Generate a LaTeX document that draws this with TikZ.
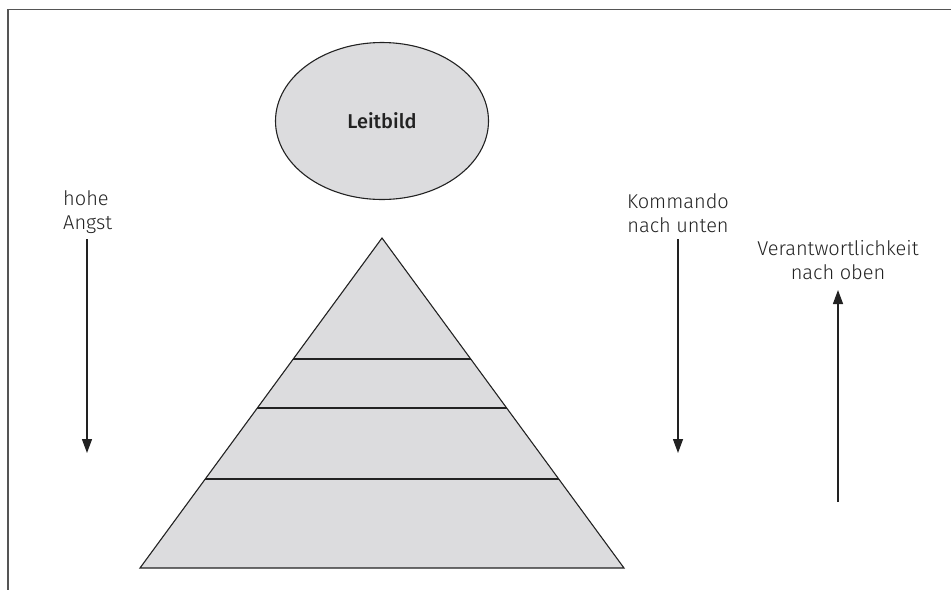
\documentclass[tikz,border=0pt]{standalone}
\usepackage{fontspec}
\setmainfont{Fira Sans}[UprightFont=* Light, BoldFont=* Medium]
\usetikzlibrary{arrows.meta,shapes.geometric}
\definecolor{fillgray}{HTML}{DCDCDE}
\definecolor{ink}{HTML}{222222}
\definecolor{framegray}{HTML}{555555}
\tikzset{
  lbl/.style={font=\fontsize{20}{24}\selectfont, text=ink, inner sep=0pt, align=center},
  arr/.style={draw=ink, line width=1.3pt, -{Triangle[length=14pt,width=10pt]}},
  shape line/.style={draw=ink, line width=1.1pt},
}
\begin{document}
\begin{tikzpicture}[x=1pt,y=-1pt]
\useasboundingbox (0,0) rectangle (951,590);
% frame
\coordinate (ftr) at (951,9.5);
\coordinate (ftl) at (8,9.5);
\coordinate (fbl) at (8,590);
\draw[framegray, line width=1.5pt] (ftr) -- (ftl) -- (fbl);
% Leitbild ellipse
\node[ellipse, shape line, fill=fillgray, minimum width=213pt, minimum height=157pt, inner sep=0pt,
      font=\fontsize{20}{24}\selectfont\bfseries, text=ink] (leit) at (382,121) {Leitbild};
% pyramid
\coordinate (apex) at (382,238);
\coordinate (bl) at (140,568);
\coordinate (br) at (624,568);
\draw[shape line, fill=fillgray, line join=miter] (apex) -- (br) -- (bl) -- cycle;
\coordinate (l1a) at (293,359); \coordinate (l1b) at (471,359);
\coordinate (l2a) at (257.3,408); \coordinate (l2b) at (506.7,408);
\coordinate (l3a) at (205,479); \coordinate (l3b) at (559,479);
\draw[shape line] (l1a) -- (l1b);
\draw[shape line] (l2a) -- (l2b);
\draw[shape line] (l3a) -- (l3b);
% labels (base anchor = baseline of the last line)
\node[lbl, align=left, anchor=base west] (angst) at (63,229) {hohe\\Angst};
\node[lbl, anchor=base] (komm) at (678,232) {Kommando\\nach unten};
\node[lbl, anchor=base] (verant) at (838,279) {Verantwortlichkeit\\nach oben};
% arrows
\coordinate (a1s) at (87,239); \coordinate (a1e) at (87,453);
\coordinate (a2s) at (678,239); \coordinate (a2e) at (678,453);
\coordinate (a3s) at (838,502); \coordinate (a3e) at (838,290);
\draw[arr] (a1s) -- (a1e);
\draw[arr] (a2s) -- (a2e);
\draw[arr] (a3s) -- (a3e);
\end{tikzpicture}
\end{document}
